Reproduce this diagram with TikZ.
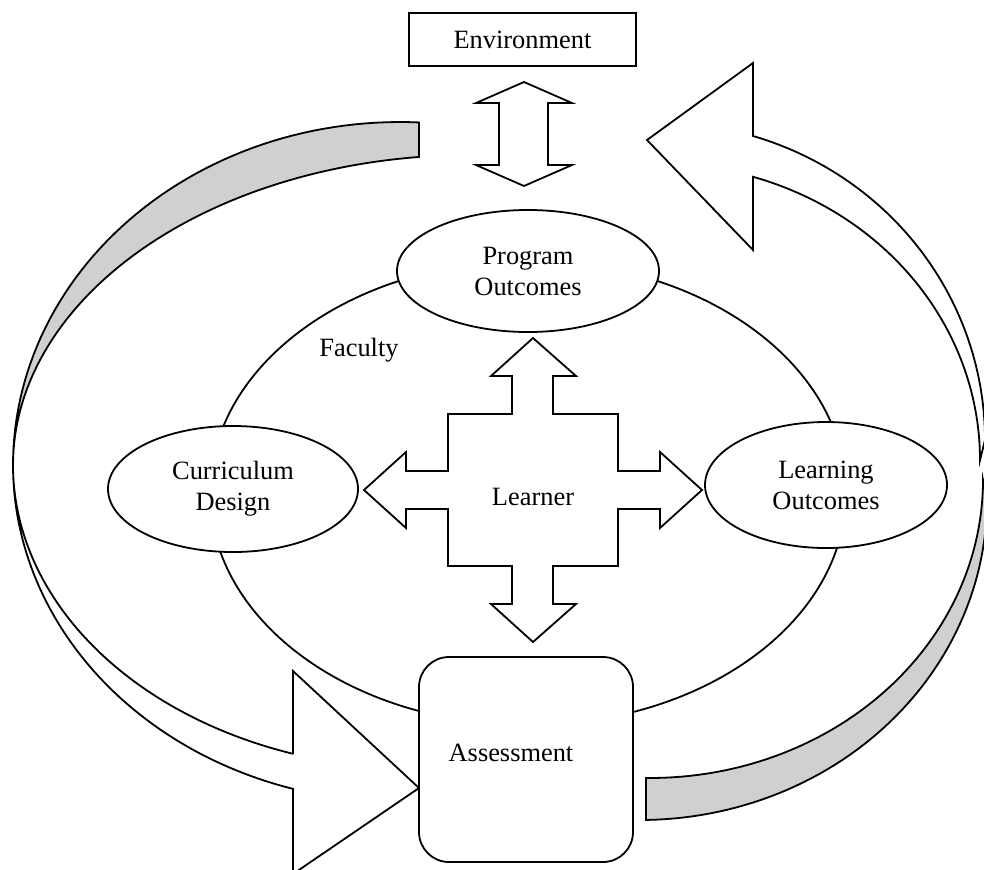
\documentclass[tikz,border=0pt]{standalone}
\usepackage{fontspec}
\setmainfont{Liberation Serif}
\usetikzlibrary{shapes.geometric}
\definecolor{bandgray}{RGB}{208,208,208}

\begin{document}
\begin{tikzpicture}[x=0.5pt,y=-0.5pt,line width=0.9pt,
    font=\fontsize{13.2}{15.5}\selectfont,
    bubble/.style={draw,ellipse,fill=white,inner sep=0pt,align=center},
    blockarrow/.style={draw,fill=white,line join=miter},
    band/.style={draw,fill=bandgray,line join=miter}]
\useasboundingbox (0,0) rectangle (984,869);

% left curved arrow
\draw[band] plot[domain=272.81:180,samples=60] ({400+387*cos(\x)},{465+343*sin(\x)})
    -- plot[domain=180:263.59,samples=60] ({470+457*cos(\x)},{465+310*sin(\x)}) -- cycle;
\draw[blockarrow] plot[domain=180:106.05,samples=60] ({400+387*cos(\x)},{465+337*sin(\x)})
    -- (293,874) -- (419,788) -- (293,671) -- (293,754)
    -- plot[domain=108.18:180,samples=60] ({420+407*cos(\x)},{465+304*sin(\x)}) -- cycle;

% right curved arrow
\draw[band] plot[domain=89:0,samples=60] ({640+347*cos(\x)},{500+320*sin(\x)})
    -- plot[domain=0:90.69,samples=60] ({650+333*cos(\x)},{480+298*sin(\x)}) -- cycle;
\draw[blockarrow] plot[domain=0:-73.37,samples=60] ({660+325*cos(\x)},{440+317.3*sin(\x)})
    -- (753,63) -- (647,140) -- (753,250) -- (753,177)
    -- plot[domain=-73.1:0,samples=60] ({660+320*cos(\x)},{460+296*sin(\x)}) -- cycle;

\node[draw,ellipse,minimum width=318pt,minimum height=232pt] (faculty) at (528,493) {};
\node (facultylbl) at (359,350) {Faculty};

\node[bubble,minimum width=131pt,minimum height=61pt] (prog) at (528,271) {Program\\Outcomes};
\node[bubble,minimum width=125pt,minimum height=63pt] (curric) at (233,489) {Curriculum\\Design};
\node[bubble,minimum width=121pt,minimum height=63pt] (learn) at (826,485) {Learning\\Outcomes};

\node[draw,fill=white,rounded corners=15pt,minimum width=107pt,minimum height=102.5pt] (assess) at (526,759.5) {};
\node (assesslbl) at (511,753) {Assessment};

\node[draw,minimum width=113.5pt,minimum height=26.5pt] (env) at (522.5,39.5) {Environment};

% arrow between environment and program outcomes
\draw[blockarrow] (524,82) -- (572,103) -- (548,103) -- (548,165) -- (572,165) -- (524,186)
    -- (476,165) -- (499,165) -- (499,103) -- (476,103) -- cycle;

% learner cross
\draw[blockarrow] (533,338) -- (576,376) -- (553,376) -- (553,414) -- (618,414) -- (618,471)
    -- (660,471) -- (660,452) -- (702,490) -- (660,528) -- (660,509) -- (618,509)
    -- (618,566) -- (553,566) -- (553,604) -- (576,604) -- (533,642) -- (491,604)
    -- (512,604) -- (512,566) -- (448,566) -- (448,509) -- (406,509) -- (406,528)
    -- (364,490) -- (406,452) -- (406,471) -- (448,471) -- (448,414) -- (512,414)
    -- (512,376) -- (491,376) -- cycle;
\node (learner) at (533,497) {Learner};
\end{tikzpicture}
\end{document}
